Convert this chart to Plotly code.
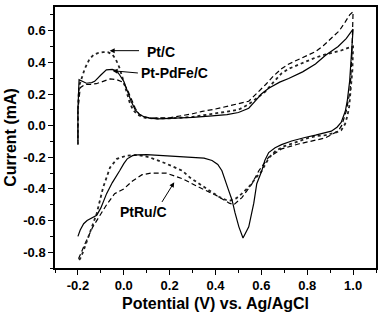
import plotly.graph_objects as go

# ---------------- data ----------------
# Pt-PdFe/C (solid)
solid_x = [-0.2, -0.2, -0.195, -0.18, -0.163, -0.14, -0.127, -0.1, -0.076, -0.05, -0.03, -0.018, 0.0, 0.011,
           0.032, 0.05, 0.068, 0.09, 0.112, 0.15, 0.2, 0.3, 0.372, 0.45, 0.5, 0.545, 0.576, 0.6, 0.632, 0.68,
           0.719, 0.78, 0.836, 0.88, 0.935, 0.97, 1.0,
           0.993, 0.985, 0.975, 0.966, 0.948, 0.93, 0.905, 0.87, 0.836, 0.79, 0.732, 0.688, 0.66, 0.632, 0.615,
           0.602, 0.58, 0.567, 0.545, 0.52, 0.502, 0.485, 0.472, 0.455, 0.44, 0.428, 0.41, 0.385, 0.35, 0.3,
           0.25, 0.2, 0.15, 0.1, 0.06, 0.038, 0.015, 0.0, -0.018, -0.05, -0.075, -0.1, -0.118, -0.14, -0.16,
           -0.175, -0.19, -0.2]
solid_y = [-0.1, 0.1, 0.29, 0.28, 0.268, 0.272, 0.28, 0.32, 0.353, 0.355, 0.345, 0.32, 0.28, 0.237,
           0.154, 0.1, 0.072, 0.055, 0.047, 0.043, 0.045, 0.052, 0.06, 0.07, 0.083, 0.11, 0.16, 0.2, 0.236, 0.275,
           0.298, 0.34, 0.39, 0.445, 0.5, 0.55, 0.61,
           0.42, 0.28, 0.16, 0.091, 0.02, -0.01, -0.035, -0.05, -0.06, -0.075, -0.097, -0.12, -0.14, -0.17, -0.22,
           -0.285, -0.367, -0.49, -0.64, -0.71, -0.64, -0.55, -0.47, -0.4, -0.34, -0.285, -0.245, -0.22, -0.205, -0.2,
           -0.195, -0.19, -0.185, -0.183, -0.185, -0.19, -0.21, -0.24, -0.285, -0.36, -0.43, -0.52, -0.567, -0.585, -0.6,
           -0.62, -0.66, -0.7]

# Pt/C (dotted)
dot_x = [-0.2, -0.2, -0.195, -0.185, -0.17, -0.15, -0.13, -0.11, -0.09, -0.07, -0.05, -0.035, -0.02, -0.005,
         0.01, 0.025, 0.04, 0.06, 0.08, 0.1, 0.15, 0.2, 0.3, 0.372, 0.45, 0.5, 0.545, 0.58, 0.619, 0.65, 0.688,
         0.72, 0.762, 0.8, 0.836, 0.88, 0.92, 0.948, 0.975, 1.0,
         0.997, 0.99, 0.983, 0.975, 0.965, 0.948, 0.922, 0.88, 0.836, 0.805, 0.77, 0.732, 0.7, 0.662, 0.635,
         0.619, 0.6, 0.576, 0.55, 0.515, 0.49, 0.466, 0.446, 0.415, 0.372, 0.329, 0.29, 0.255, 0.185, 0.112,
         0.06, 0.012, -0.03, -0.06, -0.09, -0.118, -0.148, -0.165, -0.178, -0.19, -0.2]
dot_y = [-0.12, 0.1, 0.25, 0.3, 0.36, 0.42, 0.45, 0.46, 0.465, 0.465, 0.45, 0.42, 0.37, 0.3,
         0.22, 0.15, 0.1, 0.07, 0.055, 0.048, 0.045, 0.046, 0.055, 0.07, 0.085, 0.1, 0.135, 0.175, 0.217, 0.27, 0.33,
         0.36, 0.386, 0.41, 0.43, 0.45, 0.462, 0.475, 0.49, 0.5,
         0.35, 0.22, 0.12, 0.06, 0.01, -0.03, -0.045, -0.06, -0.066, -0.078, -0.095, -0.11, -0.13, -0.16, -0.2,
         -0.24, -0.29, -0.33, -0.38, -0.43, -0.46, -0.473, -0.47, -0.45, -0.41, -0.37, -0.33, -0.285, -0.24, -0.2,
         -0.185, -0.19, -0.21, -0.265, -0.39, -0.555, -0.68, -0.75, -0.8, -0.84, -0.86]

# PtRu/C (dashed)
dash_x = [-0.2, -0.2, -0.19, -0.17, -0.15, -0.12, -0.09, -0.06, -0.03, -0.005, 0.015, 0.032, 0.05, 0.068,
          0.09, 0.12, 0.2, 0.3, 0.342, 0.4, 0.45, 0.489, 0.545, 0.576, 0.619, 0.65, 0.688, 0.72, 0.762, 0.8,
          0.836, 0.87, 0.905, 0.94, 0.966, 0.985, 1.0,
          0.995, 0.987, 0.97, 0.95, 0.935, 0.879, 0.82, 0.762, 0.688, 0.632, 0.589, 0.558, 0.515, 0.48, 0.46,
          0.402, 0.329, 0.255, 0.185, 0.12, 0.08, 0.038, 0.0, -0.04, -0.075, -0.105, -0.135, -0.17, -0.19, -0.2]
dash_y = [-0.12, 0.1, 0.24, 0.26, 0.26, 0.265, 0.28, 0.295, 0.29, 0.275, 0.23, 0.175, 0.11, 0.07,
          0.055, 0.048, 0.05, 0.075, 0.09, 0.105, 0.12, 0.135, 0.154, 0.198, 0.26, 0.31, 0.36, 0.39, 0.417, 0.44,
          0.468, 0.505, 0.55, 0.6, 0.656, 0.7, 0.72,
          0.45, 0.22, 0.09, 0.0, -0.034, -0.078, -0.098, -0.116, -0.147, -0.2, -0.285, -0.37, -0.455, -0.5, -0.49,
          -0.44, -0.39, -0.335, -0.3, -0.3, -0.31, -0.35, -0.4, -0.43, -0.5, -0.57, -0.64, -0.75, -0.82, -0.85]

x_tickvals = [-0.2, 0.0, 0.2, 0.4, 0.6, 0.8, 1.0]
x_ticktext = ["-0.2", "0.0", "0.2", "0.4", "0.6", "0.8", "1.0"]
y_tickvals = [-0.8, -0.6, -0.4, -0.2, 0.0, 0.2, 0.4, 0.6]
y_ticktext = ["-0.8", "-0.6", "-0.4", "-0.2", "0.0", "0.2", "0.4", "0.6"]

labels = ["Pt/C", "Pt-PdFe/C", "PtRu/C"]

FONT = "Liberation Sans, Arial, sans-serif"

fig = go.Figure()
fig.add_trace(go.Scatter(x=dash_x, y=dash_y, mode="lines", name=labels[2],
                         line=dict(color="black", width=1.2, dash="5px,3px")))
fig.add_trace(go.Scatter(x=dot_x, y=dot_y, mode="lines", name=labels[0],
                         line=dict(color="#222", width=1.8, dash="dot")))
fig.add_trace(go.Scatter(x=solid_x, y=solid_y, mode="lines", name=labels[1],
                         line=dict(color="black", width=1.2)))

axis_common = dict(showline=True, linecolor="black", linewidth=1.5, mirror=True,
                   ticks="outside", ticklen=5, tickwidth=1, tickcolor="black",
                   showgrid=False, zeroline=False,
                   tickfont=dict(family=FONT, size=13, color="black", weight="bold"))

fig.update_xaxes(range=[-0.3, 1.1], tickvals=x_tickvals, ticktext=x_ticktext,
                 minor=dict(dtick=0.1, tick0=0, ticks="outside", ticklen=3, tickcolor="black", showgrid=False),
                 title=dict(text="Potential (V) vs. Ag/AgCl",
                            font=dict(family=FONT, size=16, color="black", weight="bold"), standoff=5),
                 **axis_common)
fig.update_yaxes(range=[-0.9, 0.75], tickvals=y_tickvals, ticktext=y_ticktext,
                 minor=dict(dtick=0.1, tick0=0, ticks="outside", ticklen=3, tickcolor="black", showgrid=False),
                 title=dict(text="Current (mA)",
                            font=dict(family=FONT, size=16, color="black", weight="bold"), standoff=3),
                 **axis_common)

afont = dict(family=FONT, size=14, color="black", weight="bold")
# arrows
arrows = [(-0.0616, 0.474, 0.073, 0.474), (-0.049, 0.347, 0.068, 0.332), (0.22, -0.358, 0.1625, -0.492)]
for (x, y, ax, ay) in arrows:
    fig.add_annotation(x=x, y=y, ax=ax, ay=ay, xref="x", yref="y", axref="x", ayref="y",
                       text="", showarrow=True, arrowhead=2, arrowsize=1, arrowwidth=1, arrowcolor="black")
# labels
label_pos = [(0.162, 0.468), (0.222, 0.332), (0.084, -0.547)]
for t, (x, y) in zip(labels, label_pos):
    fig.add_annotation(x=x, y=y, xref="x", yref="y", text=t, showarrow=False, font=afont)

fig.update_layout(width=383, height=316, margin=dict(l=55, r=5, t=5, b=48),
                  paper_bgcolor="white", plot_bgcolor="white", showlegend=False)

fig.write_html("out.html")
